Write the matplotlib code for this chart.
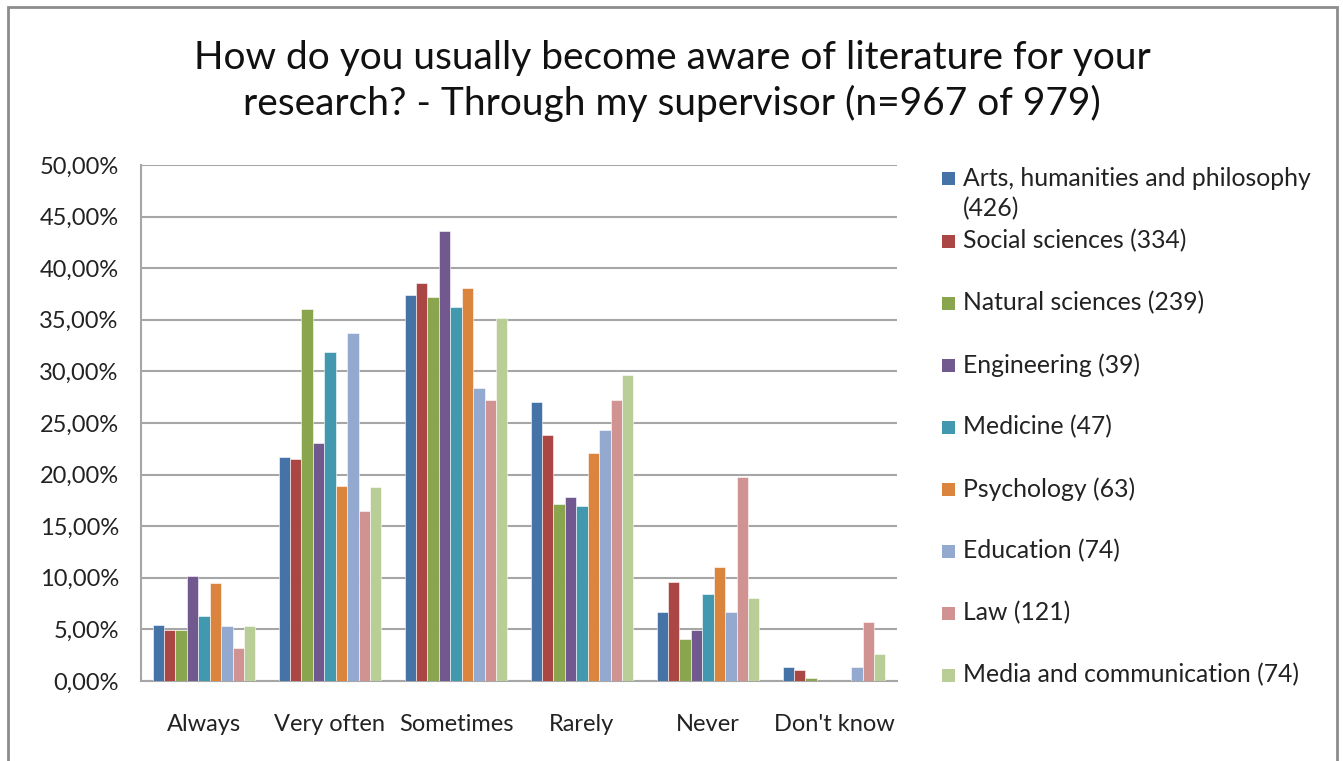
import numpy as np
import matplotlib
matplotlib.use("Agg")
import matplotlib.pyplot as plt
from matplotlib.patches import Rectangle
from matplotlib.ticker import FuncFormatter, MultipleLocator

plt.rcParams['font.family'] = ['Lato', 'DejaVu Sans']

categories = ["Always", "Very often", "Sometimes", "Rarely", "Never", "Don't know"]

series_names = [
    "Arts, humanities and philosophy\n(426)",
    "Social sciences (334)",
    "Natural sciences (239)",
    "Engineering (39)",
    "Medicine (47)",
    "Psychology (63)",
    "Education (74)",
    "Law (121)",
    "Media and communication (74)",
]

arts      = [5.42, 21.75, 37.38, 27.00, 6.73, 1.38]
social    = [4.93, 21.52, 38.60, 23.88, 9.59, 1.08]
natural   = [4.93, 36.00, 37.25, 17.15, 4.10, 0.33]
engineer  = [10.18, 23.06, 43.63, 17.80, 4.93, 0.0]
medicine  = [6.31, 31.87, 36.27, 16.92, 8.44, 0.0]
psychology = [9.46, 18.92, 38.11, 22.14, 11.07, 0.0]
education = [5.32, 33.74, 28.38, 24.28, 6.73, 1.38]
law       = [3.22, 16.43, 27.27, 27.27, 19.78, 5.72]
media     = [5.32, 18.79, 35.15, 29.67, 8.05, 2.60]

values = [arts, social, natural, engineer, medicine, psychology, education, law, media]

colors = ['#4572A7', '#AA4643', '#89A54E', '#71588F', '#4198AF',
          '#DB843D', '#93A9CF', '#D19392', '#B9CD96']

W, H = 1343, 761
fig = plt.figure(figsize=(W / 100, H / 100), dpi=100)
ax = fig.add_axes([141 / W, 1 - 681 / H, (897 - 141) / W, (681 - 165) / H])

x = np.arange(len(categories))
bw = 0.0905
n = len(values)
for i, vals in enumerate(values):
    ax.bar(x + (i - (n - 1) / 2) * bw, vals, width=bw, color=colors[i],
           edgecolor='white', linewidth=0.4, zorder=3)

ax.set_xlim(-0.5, len(categories) - 0.5)
ax.set_ylim(0, 50)
ax.yaxis.set_major_locator(MultipleLocator(5))
ax.yaxis.set_major_formatter(FuncFormatter(lambda v, p: ("%.2f" % v).replace(".", ",") + "%"))
ax.set_xticks(x)
ax.set_xticklabels(categories)
ax.tick_params(axis='both', length=0, labelsize=17, colors='#222222')
ax.tick_params(axis='y', pad=16)
ax.tick_params(axis='x', pad=24)
ax.grid(axis='y', color='#a6a6a6', linewidth=1.5, zorder=0)
for s in ['top', 'right']:
    ax.spines[s].set_visible(False)
for s in ['left', 'bottom']:
    ax.spines[s].set_color('#a6a6a6')
    ax.spines[s].set_linewidth(1.5)

fig.text(672 / W, 1 - 81 / H,
         "How do you usually become aware of literature for your\nresearch? - Through my supervisor (n=967 of 979)",
         ha='center', va='center', fontsize=28, linespacing=1.3, color='#111111')

# legend, drawn by hand so the wrapped first entry keeps its square on line one
leg_y = [178] + [241 + 62 * k for k in range(n - 1)]
for i in range(n):
    y = leg_y[i]
    fig.patches.append(Rectangle((942 / W, 1 - (y + 7) / H), 13 / W, 13 / H,
                                 transform=fig.transFigure, facecolor=colors[i],
                                 edgecolor='none'))
    first, *rest = series_names[i].split("\n")
    fig.text(963 / W, 1 - y / H, first, ha='left', va='center', fontsize=17.8, color='#222222')
    if rest:
        fig.text(963 / W, 1 - (y + 31) / H, rest[0], ha='left', va='center', fontsize=17.8, color='#222222')

# outer frame
fig.patches.append(Rectangle((8 / W, -0.1), (1337 - 8) / W, 1.1 - 7 / H,
                             transform=fig.transFigure, facecolor='none',
                             edgecolor='#8c8c8c', linewidth=2))

fig.savefig("out.png", dpi=100)
